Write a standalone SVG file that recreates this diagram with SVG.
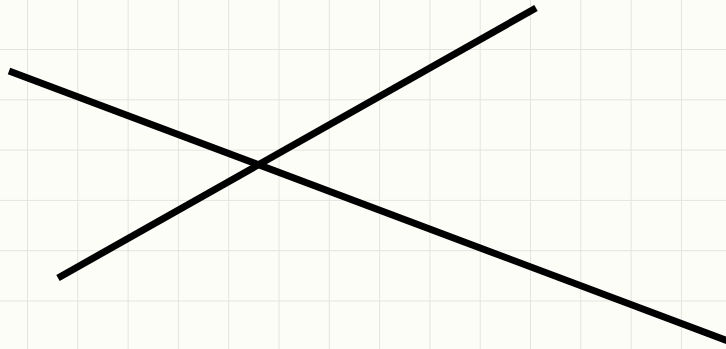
<svg xmlns="http://www.w3.org/2000/svg" width="726" height="349" viewBox="0 0 726 349">
<defs>
<pattern id="grid" x="27" y="49" width="50.3" height="50.3" patternUnits="userSpaceOnUse">
<path d="M0 0V50.3M0 0H50.3" fill="none" stroke="#e4e4df" stroke-width="2"/>
</pattern>
</defs>
<style>.ln{stroke:#000;stroke-width:7;fill:none;stroke-linecap:butt}</style>
<rect width="726" height="349" fill="#fdfdf8"/>
<rect width="726" height="349" fill="url(#grid)"/>
<g id="connectors">
<line class="ln" x1="9" y1="71" x2="740" y2="345.5"/>
<line class="ln" x1="58" y1="278" x2="536" y2="8"/>
</g>
</svg>
